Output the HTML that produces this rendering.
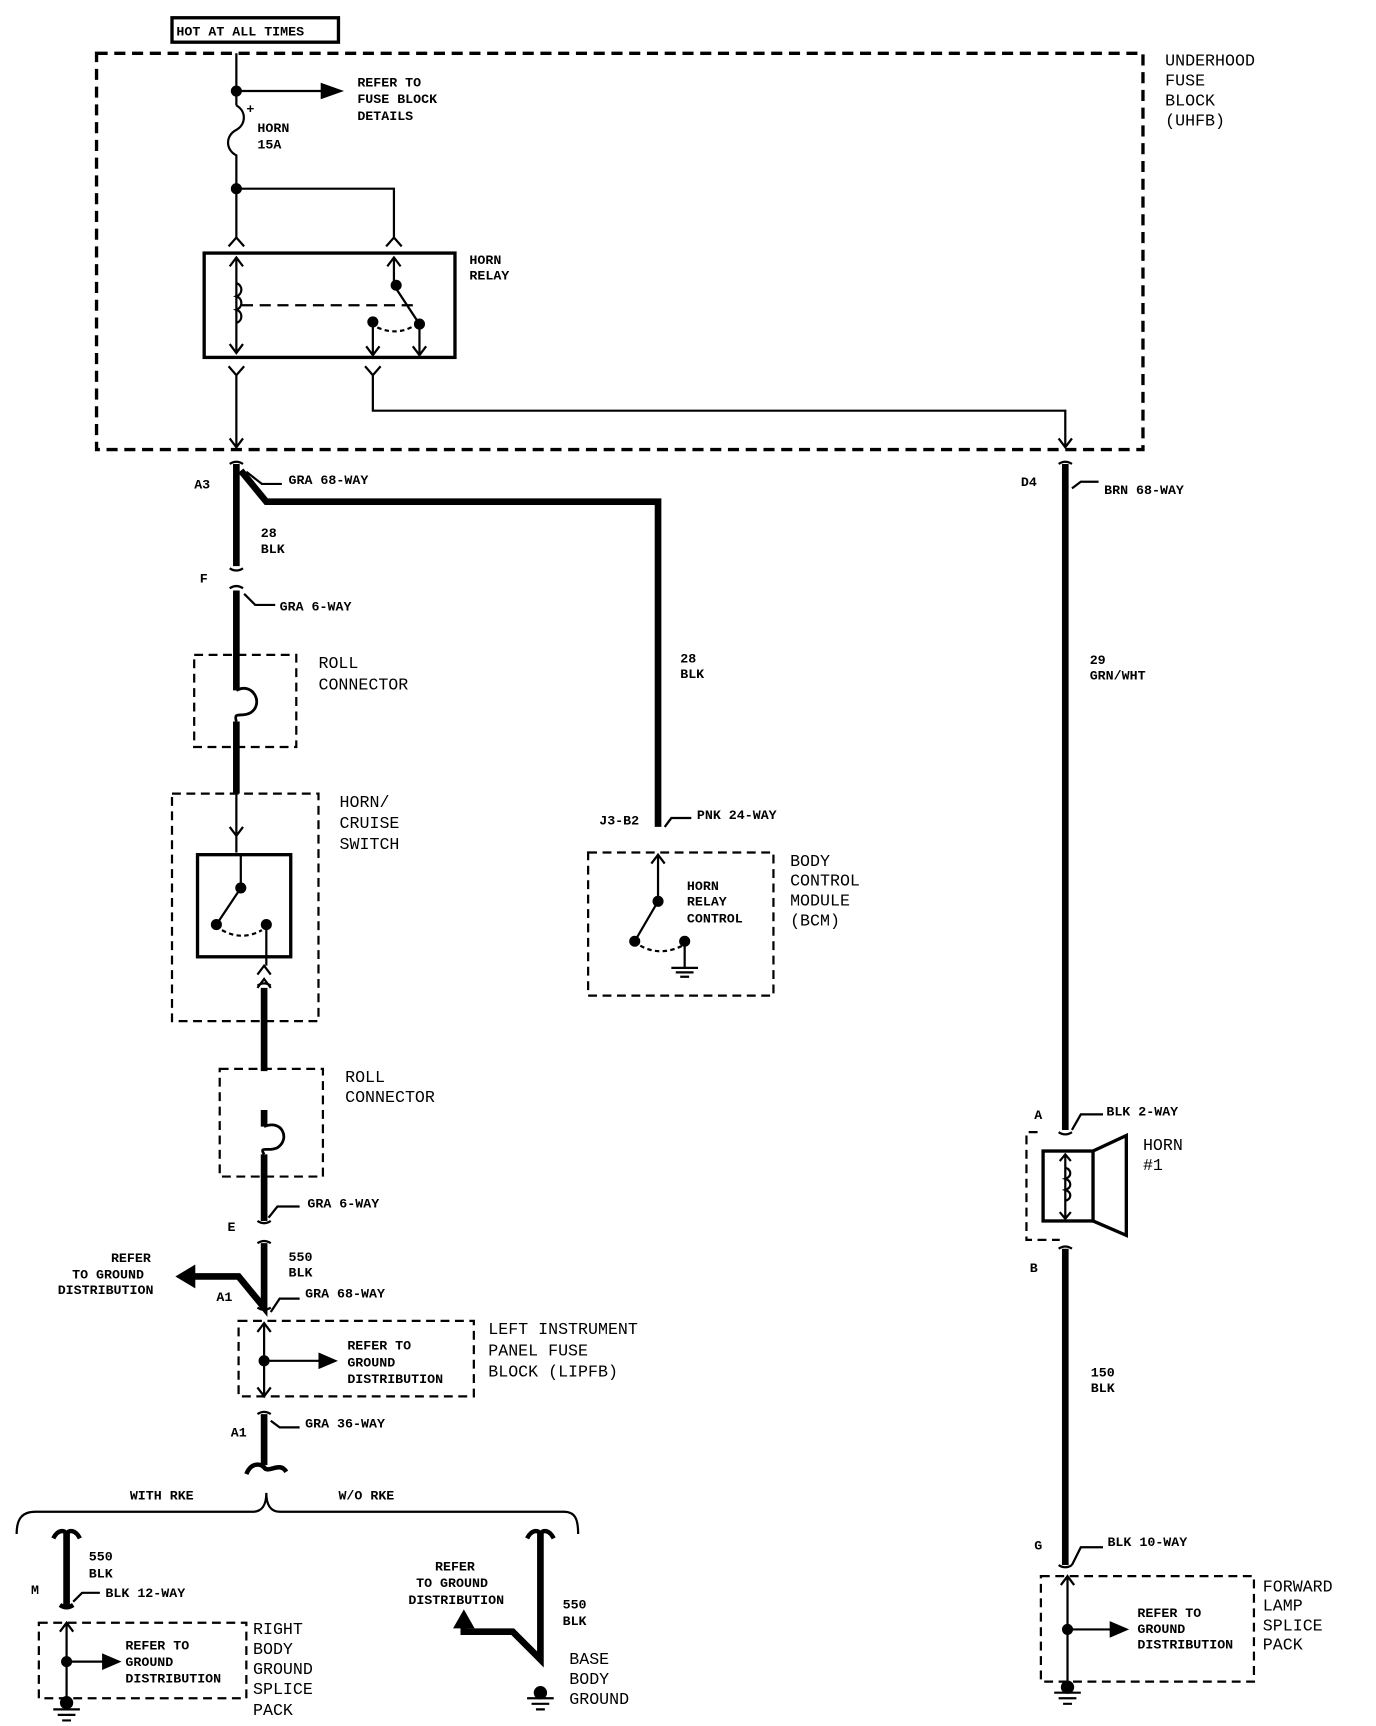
<!DOCTYPE html>
<html><head><meta charset="utf-8"><style>
html,body{margin:0;padding:0;background:#fff;}
svg{display:block;}
text{font-family:"Liberation Mono","DejaVu Sans Mono",monospace;fill:#000;}
.s{font-size:12px;font-weight:bold;}
.l{font-size:15px;}
</style></head><body>
<svg width="1376" height="1726" viewBox="0 0 1240 1555" preserveAspectRatio="none" xmlns="http://www.w3.org/2000/svg">
<g fill="none" stroke="#000" stroke-width="2">
<rect x="155" y="16" width="150" height="22" stroke-width="3"/>
<rect x="87" y="48" width="943" height="357" stroke-width="3" stroke-dasharray="10,6"/>
<path d="M213 48V95 M213 82H295"/>
<path d="M290 76L307 82L290 88Z" fill="#000"/>
<path d="M213 95C222 100 222 112 213 117C203 122 203 135 213 140V215"/>
<path d="M213 170H355V215"/>
<path d="M206 222L213 214L220 222 M348 222L355 214L362 222"/>
<rect x="184" y="228" width="226" height="94" stroke-width="3"/>
<path d="M213 232V318 M207 240L213 232L219 240 M207 310L213 318L219 310"/>
<path d="M213 255c6 2 6 10 0 12c6 2 6 10 0 12c6 2 6 10 0 12" />
<path d="M218 275H375" stroke-dasharray="10,6"/>
<path d="M355 232V257L378 292V320 M349 240L355 232L361 240 M336 290V320 M330 312L336 320L342 312 M372 312L378 320L384 312"/>
<path d="M340 295q18 8 34 -2" stroke-dasharray="4,3"/>
<circle cx="357" cy="257" r="4" fill="#000"/><circle cx="378" cy="292" r="4" fill="#000"/><circle cx="336" cy="290" r="4" fill="#000"/>
<circle cx="213" cy="82" r="4" fill="#000"/><circle cx="213" cy="170" r="4" fill="#000"/>
<path d="M206 330L213 338L220 330 M213 338V403 M207 395L213 403L219 395"/>
<path d="M329 330L336 338L343 330 M336 338V370H960V403 M954 395L960 403L966 395"/>
<g stroke-width="6">
<path d="M213 418V510 M217 424L240 452H593V745"/>
<path d="M213 532V622 M213 650V715"/>
<path d="M238 890V965 M238 1000V1015 M238 1040V1100 M238 1120V1178L215 1150H170"/>
<path d="M238 1274V1320"/>
<path d="M60 1380V1446"/>
<path d="M487 1380V1495L462 1470H418V1462"/>
<path d="M960 418V1018 M960 1125V1410"/>
</g>
<path d="M160 1150L175 1141V1159Z" fill="#000"/>
<path d="M418 1452L410 1466H426Z" fill="#000"/>
<path d="M207 418q6 -4 12 0 M207 512q6 4 12 0 M207 530q6 -4 12 0 M232 888q6 -4 12 0 M232 1100q6 4 12 0 M232 1120q6 -4 12 0 M232 1178q6 4 12 0 M232 1274q6 -4 12 0 M954 418q6-4 12 0 M954 1020q6 4 12 0 M954 1125q6 -4 12 0 M954 1410q6 4 12 0"/>
<path d="M222 1328C226 1318 234 1318 238 1322C242 1328 252 1316 258 1326 M48 1386C52 1378 58 1378 60 1382C62 1378 68 1378 72 1386 M475 1386C479 1378 485 1378 487 1382C489 1378 495 1378 499 1386 M54 1446q6 4 12 0" stroke-width="4"/>
<path d="M222 425l14 11h18 M220 535l10 10h18 M599 745l6 -8h18 M242 1097l8 -10h20 M244 1182l8 -12h18 M244 1280l8 6h18 M66 1443l8 -8h16 M966 440l8 -6h16 M966 1018l8 -14h20 M966 1410l8 -16h20"/>
<rect x="175" y="590" width="92" height="83" stroke-dasharray="8,5"/>
<path d="M213 622C228 614 238 634 226 642C218 647 210 640 213 650" stroke-width="2.5"/>
<rect x="198" y="963" width="93" height="97" stroke-dasharray="8,5"/>
<path d="M238 1015C254 1008 262 1026 250 1034C242 1038 233 1032 238 1040" stroke-width="2.5"/>
<rect x="155" y="715" width="132" height="205" stroke-dasharray="8,5"/>
<path d="M213 715V768 M207 745L213 753L219 745"/>
<rect x="178" y="770" width="84" height="92" stroke-width="3"/>
<path d="M217 770V800L195 833 M240 833V870 M232 878L238 870L244 878 M232 890L238 882L244 890"/>
<path d="M200 838q18 10 36 0" stroke-dasharray="4,3"/>
<circle cx="217" cy="800" r="4" fill="#000"/><circle cx="195" cy="833" r="4" fill="#000"/><circle cx="240" cy="833" r="4" fill="#000"/>
<rect x="530" y="768" width="167" height="129" stroke-dasharray="8,5"/>
<path d="M593 770V812L572 848 M587 778L593 770L599 778"/>
<path d="M577 852q18 10 38 0" stroke-dasharray="4,3"/>
<path d="M617 848V872 M605 872H629 M609 876H625 M613 880H621"/>
<circle cx="593" cy="812" r="4" fill="#000"/><circle cx="572" cy="848" r="4" fill="#000"/><circle cx="617" cy="848" r="4" fill="#000"/>
<rect x="215" y="1190" width="212" height="68" stroke-dasharray="8,5"/>
<path d="M238 1192V1258 M232 1200L238 1192L244 1200 M232 1250L238 1258L244 1250 M238 1226H290"/>
<path d="M288 1220L302 1226L288 1232Z" fill="#000"/><circle cx="238" cy="1226" r="4" fill="#000"/>
<path d="M15 1382C15 1368 20 1362 32 1362H228C236 1362 240 1356 240 1345C240 1356 244 1362 252 1362H508C518 1362 521 1368 521 1382"/>
<rect x="35" y="1462" width="187" height="68" stroke-dasharray="8,5"/>
<path d="M60 1462V1530 M54 1470L60 1462L66 1470 M60 1497H95"/>
<path d="M93 1491L107 1497L93 1503Z" fill="#000"/><circle cx="60" cy="1497" r="4" fill="#000"/>
<path d="M48 1540H72 M52 1545H68 M56 1550H64 M475 1530H499 M479 1535H495 M483 1540H491 M950 1525H974 M954 1530H970 M958 1535H966"/>
<circle cx="60" cy="1534" r="5" fill="#000"/><circle cx="487" cy="1525" r="5" fill="#000"/><circle cx="962" cy="1520" r="5" fill="#000"/>
<path d="M935 1020H925V1117H955" stroke-dasharray="8,5"/>
<rect x="940" y="1037" width="45" height="63" stroke-width="3"/>
<path d="M985 1037L1015 1023V1113L985 1100" stroke-width="3"/>
<path d="M960 1040V1098 M955 1046L960 1040L965 1046 M955 1092L960 1098L965 1092"/>
<path d="M960 1052c6 2 6 8 0 10c6 2 6 8 0 10c6 2 6 8 0 10" />
<rect x="938" y="1420" width="192" height="95" stroke-dasharray="8,5"/>
<path d="M962 1420V1515 M956 1428L962 1420L968 1428 M962 1468H1003"/>
<path d="M1001 1462L1015 1468L1001 1474Z" fill="#000"/><circle cx="962" cy="1468" r="4" fill="#000"/>
</g>
<g class="s">
<text x="159" y="32">HOT AT ALL TIMES</text>
<text x="322" y="78">REFER TO</text><text x="322" y="93">FUSE BLOCK</text><text x="322" y="108">DETAILS</text>
<text x="222" y="102">+</text>
<text x="232" y="119">HORN</text><text x="232" y="134">15A</text>
<text x="423" y="238">HORN</text><text x="423" y="252">RELAY</text>
<text x="175" y="440">A3</text><text x="260" y="436">GRA 68-WAY</text>
<text x="235" y="484">28</text><text x="235" y="498">BLK</text>
<text x="180" y="525">F</text><text x="252" y="550">GRA 6-WAY</text>
<text x="613" y="597">28</text><text x="613" y="611">BLK</text>
<text x="982" y="598">29</text><text x="982" y="612">GRN/WHT</text>
<text x="920" y="438">D4</text><text x="995" y="445">BRN 68-WAY</text>
<text x="540" y="743">J3-B2</text><text x="628" y="738">PNK 24-WAY</text>
<text x="619" y="802">HORN</text><text x="619" y="816">RELAY</text><text x="619" y="831">CONTROL</text>
<text x="932" y="1008">A</text><text x="997" y="1005">BLK 2-WAY</text>
<text x="928" y="1146">B</text>
<text x="983" y="1240">150</text><text x="983" y="1254">BLK</text>
<text x="932" y="1396">G</text><text x="998" y="1393">BLK 10-WAY</text>
<text x="1025" y="1457">REFER TO</text><text x="1025" y="1471">GROUND</text><text x="1025" y="1485">DISTRIBUTION</text>
<text x="277" y="1088">GRA 6-WAY</text><text x="205" y="1109">E</text>
<text x="260" y="1136">550</text><text x="260" y="1150">BLK</text>
<text x="100" y="1137">REFER</text><text x="65" y="1152">TO GROUND</text><text x="52" y="1166">DISTRIBUTION</text>
<text x="195" y="1172">A1</text><text x="275" y="1169">GRA 68-WAY</text>
<text x="313" y="1216">REFER TO</text><text x="313" y="1231">GROUND</text><text x="313" y="1246">DISTRIBUTION</text>
<text x="208" y="1294">A1</text><text x="275" y="1286">GRA 36-WAY</text>
<text x="117" y="1351">WITH RKE</text><text x="305" y="1351">W/O RKE</text>
<text x="80" y="1406">550</text><text x="80" y="1421">BLK</text>
<text x="28" y="1436">M</text><text x="95" y="1439">BLK 12-WAY</text>
<text x="113" y="1486">REFER TO</text><text x="113" y="1501">GROUND</text><text x="113" y="1516">DISTRIBUTION</text>
<text x="392" y="1415">REFER</text><text x="375" y="1430">TO GROUND</text><text x="368" y="1445">DISTRIBUTION</text>
<text x="507" y="1449">550</text><text x="507" y="1464">BLK</text>
</g>
<g class="l">
<text x="1050" y="59">UNDERHOOD</text><text x="1050" y="77">FUSE</text><text x="1050" y="95">BLOCK</text><text x="1050" y="113">(UHFB)</text>
<text x="287" y="602">ROLL</text><text x="287" y="621">CONNECTOR</text>
<text x="306" y="727">HORN/</text><text x="306" y="746">CRUISE</text><text x="306" y="765">SWITCH</text>
<text x="712" y="780">BODY</text><text x="712" y="798">CONTROL</text><text x="712" y="816">MODULE</text><text x="712" y="834">(BCM)</text>
<text x="311" y="975">ROLL</text><text x="311" y="993">CONNECTOR</text>
<text x="1030" y="1036">HORN</text><text x="1030" y="1054">#1</text>
<text x="440" y="1202">LEFT INSTRUMENT</text><text x="440" y="1221">PANEL FUSE</text><text x="440" y="1240">BLOCK (LIPFB)</text>
<text x="228" y="1472">RIGHT</text><text x="228" y="1490">BODY</text><text x="228" y="1508">GROUND</text><text x="228" y="1526">SPLICE</text><text x="228" y="1545">PACK</text>
<text x="513" y="1499">BASE</text><text x="513" y="1517">BODY</text><text x="513" y="1535">GROUND</text>
<text x="1138" y="1434">FORWARD</text><text x="1138" y="1451">LAMP</text><text x="1138" y="1469">SPLICE</text><text x="1138" y="1486">PACK</text>
</g>
</svg>
</body></html>
